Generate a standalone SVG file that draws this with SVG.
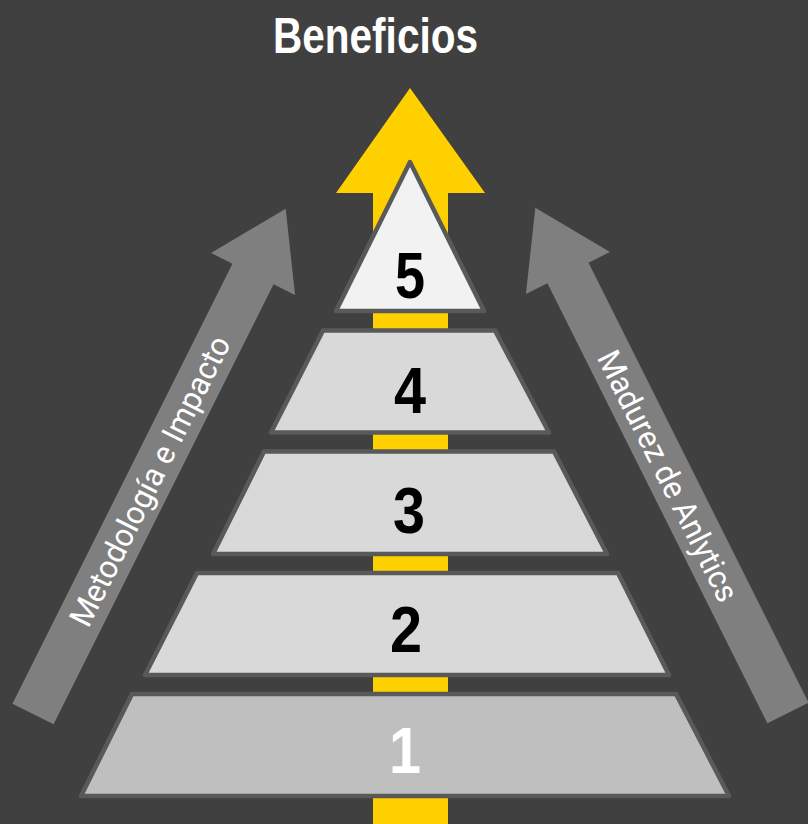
<svg xmlns="http://www.w3.org/2000/svg" width="808" height="824" viewBox="0 0 808 824">
  <style>
    .lvl { stroke: #595959; stroke-width: 4.5; stroke-linejoin: round; }
    .mid { fill: #d9d9d9; }
    .num { font-family: "Liberation Sans", Arial, sans-serif; font-weight: bold; font-size: 64px; text-anchor: middle; fill: #000000; }
    .side { fill: #7f7f7f; }
    .sidetxt { font-family: Roboto, "Liberation Sans", sans-serif; font-size: 32px; fill: #ffffff; text-anchor: middle; }
  </style>
  <rect x="0" y="0" width="808" height="824" fill="#404040"/>

  <g id="title">
    <text x="273" y="53" textLength="205" lengthAdjust="spacingAndGlyphs" font-family="'Liberation Sans', Arial, sans-serif" font-weight="bold" font-size="50" fill="#ffffff">Beneficios</text>
  </g>

  <g id="connectors">
    <g id="arrow-beneficios">
      <polygon points="410,88 485,193 448,193 448,824 373,824 373,193 336,193" fill="#ffd000"/>
    </g>
    <g id="arrow-metodologia" transform="translate(33,714) rotate(-63.435)">
      <polygon class="side" points="0,-23 492,-23 492,-47 565,0 492,47 492,23 0,23"/>
    </g>
    <g id="arrow-madurez" transform="translate(788,713) rotate(-116.565)">
      <polygon class="side" points="0,-23 492,-23 492,-47 565,0 492,47 492,23 0,23"/>
    </g>
    <g id="label-metodologia" transform="translate(150,481) rotate(-63.435)">
      <text class="sidetxt" x="0" y="11" textLength="320" lengthAdjust="spacingAndGlyphs">Metodología e Impacto</text>
    </g>
    <g id="label-madurez" transform="translate(668,476) rotate(63.435)">
      <text class="sidetxt" x="0" y="11" textLength="276" lengthAdjust="spacingAndGlyphs">Madurez de Anlytics</text>
    </g>
  </g>

  <g id="level5">
    <polygon class="lvl" fill="#f2f2f2" points="410,162 484,311 336,311"/>
    <text class="num" x="410" y="298" font-size="60" textLength="30" lengthAdjust="spacingAndGlyphs">5</text>
  </g>
  <g id="level4">
    <polygon class="lvl mid" points="323,330.5 495,330.5 549,432.5 271,432.5"/>
    <text class="num" x="410" y="413" textLength="32" lengthAdjust="spacingAndGlyphs">4</text>
  </g>
  <g id="level3">
    <polygon class="lvl mid" points="264,451.5 554,451.5 607,554 213,554"/>
    <text class="num" x="409" y="533" textLength="32" lengthAdjust="spacingAndGlyphs">3</text>
  </g>
  <g id="level2">
    <polygon class="lvl mid" points="197,573 618,573 669,675 145,675"/>
    <text class="num" x="406" y="652" textLength="32" lengthAdjust="spacingAndGlyphs">2</text>
  </g>
  <g id="level1">
    <polygon class="lvl" fill="#bfbfbf" points="132,694 676,694 729,796 81,796"/>
    <text class="num" x="405" y="773" textLength="32" lengthAdjust="spacingAndGlyphs" style="fill:#ffffff">1</text>
  </g>
</svg>
